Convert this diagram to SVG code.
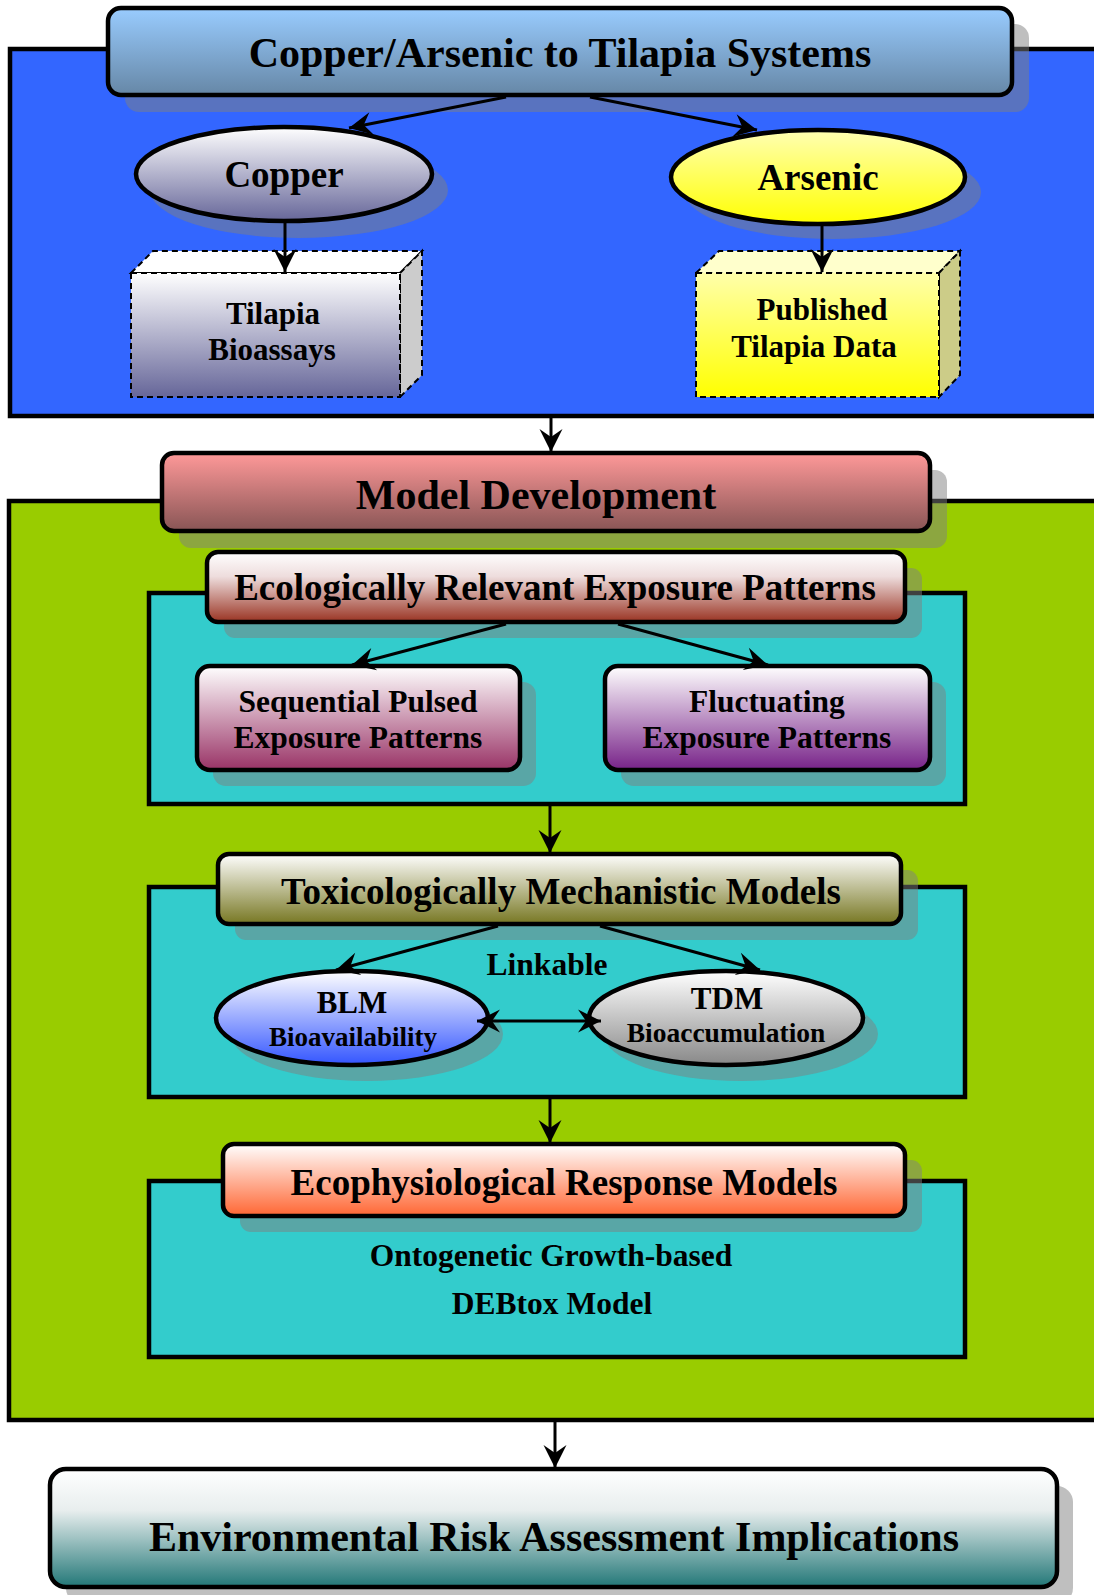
<svg xmlns="http://www.w3.org/2000/svg" width="1094" height="1595" viewBox="0 0 1094 1595">
<defs>
<style>
.t{font-family:"Liberation Serif","Times New Roman",serif;font-weight:bold;fill:#000;text-anchor:middle}
.cont{stroke:#000;stroke-width:4.5}
.box{stroke:#000;stroke-width:4.5}
.sh{fill:#808080;opacity:0.5}
.cube{stroke:#000;stroke-width:2;stroke-dasharray:6,4}
.ln{stroke:#000;stroke-width:3;fill:none}
</style>
<marker id="ah" viewBox="-26 -13 28 26" refX="0" refY="0" markerWidth="28" markerHeight="26" markerUnits="userSpaceOnUse" orient="auto-start-reverse">
<path d="M0,0 L-23,-11.5 L-15,0 L-23,11.5 Z" fill="#000"/>
</marker>
<linearGradient id="gTitle" x1="0" y1="0" x2="0" y2="1"><stop offset="0" stop-color="#99ccff"/><stop offset="1" stop-color="#6687a6"/></linearGradient>
<linearGradient id="gCopper" x1="0" y1="0" x2="0" y2="1"><stop offset="0" stop-color="#ffffff"/><stop offset="1" stop-color="#666699"/></linearGradient>
<linearGradient id="gArsenic" x1="0" y1="0" x2="0" y2="1"><stop offset="0" stop-color="#ffffb3"/><stop offset="1" stop-color="#ffff00"/></linearGradient>
<linearGradient id="gTilF" x1="0" y1="0" x2="0" y2="1"><stop offset="0" stop-color="#ffffff"/><stop offset="1" stop-color="#666699"/></linearGradient>
<linearGradient id="gPubF" x1="0" y1="0" x2="0" y2="1"><stop offset="0" stop-color="#ffffaa"/><stop offset="1" stop-color="#ffff00"/></linearGradient>
<linearGradient id="gModel" x1="0" y1="0" x2="0" y2="1"><stop offset="0" stop-color="#ff9999"/><stop offset="1" stop-color="#885555"/></linearGradient>
<linearGradient id="gEco" x1="0" y1="0" x2="0" y2="1"><stop offset="0" stop-color="#ffffff"/><stop offset="0.35" stop-color="#eedddd"/><stop offset="1" stop-color="#993322"/></linearGradient>
<linearGradient id="gSeq" x1="0" y1="0" x2="0" y2="1"><stop offset="0" stop-color="#ffffff"/><stop offset="1" stop-color="#993366"/></linearGradient>
<linearGradient id="gFluc" x1="0" y1="0" x2="0" y2="1"><stop offset="0" stop-color="#ffffff"/><stop offset="1" stop-color="#772288"/></linearGradient>
<linearGradient id="gTox" x1="0" y1="0" x2="0" y2="1"><stop offset="0" stop-color="#ffffff"/><stop offset="1" stop-color="#777722"/></linearGradient>
<linearGradient id="gBLM" x1="0" y1="0" x2="0" y2="1"><stop offset="0" stop-color="#ffffff"/><stop offset="1" stop-color="#3355ff"/></linearGradient>
<linearGradient id="gTDM" x1="0" y1="0" x2="0" y2="1"><stop offset="0" stop-color="#ffffff"/><stop offset="1" stop-color="#888888"/></linearGradient>
<linearGradient id="gEcoph" x1="0" y1="0" x2="0" y2="1"><stop offset="0" stop-color="#ffffff"/><stop offset="1" stop-color="#ff6633"/></linearGradient>
<linearGradient id="gERA" x1="0" y1="0" x2="0" y2="1"><stop offset="0" stop-color="#ffffff"/><stop offset="0.35" stop-color="#e8eeee"/><stop offset="1" stop-color="#227777"/></linearGradient>
</defs>
<rect width="1094" height="1595" fill="#ffffff"/>

<g id="containers">
<rect class="cont" x="10" y="49" width="1100" height="367" fill="#3366ff"/>
<rect class="cont" x="9" y="501" width="1100" height="919" fill="#99cc00"/>
<rect class="cont" x="149" y="593" width="816" height="211" fill="#33cccc"/>
<rect class="cont" x="149" y="887" width="816" height="210" fill="#33cccc"/>
<rect class="cont" x="149" y="1181" width="816" height="176" fill="#33cccc"/>
</g>

<g id="n-title">
<rect class="sh" x="125" y="24" width="904" height="88" rx="14"/>
<rect class="box" x="108" y="8" width="904" height="87" rx="13" fill="url(#gTitle)"/>
<text class="t" x="560" y="67" font-size="42">Copper/Arsenic to Tilapia Systems</text>
</g>

<g id="n-copper">
<ellipse class="sh" cx="299" cy="190" rx="149" ry="48"/>
<ellipse class="box" cx="284" cy="174" rx="148" ry="47" fill="url(#gCopper)"/>
<text class="t" x="284" y="187" font-size="37">Copper</text>
</g>

<g id="n-arsenic">
<ellipse class="sh" cx="833" cy="192" rx="148" ry="47"/>
<ellipse class="box" cx="818" cy="177" rx="147" ry="47" fill="url(#gArsenic)"/>
<text class="t" x="818" y="190" font-size="37">Arsenic</text>
</g>

<g id="n-bioassays">
<polygon class="cube" points="131,273 153,251 422,251 400,273" fill="#ffffff"/>
<polygon class="cube" points="400,273 422,251 422,375 400,397" fill="#cccccc"/>
<rect class="cube" x="131" y="273" width="269" height="124" fill="url(#gTilF)"/>
<text class="t" x="273" y="324" font-size="31">Tilapia</text>
<text class="t" x="272" y="360" font-size="31">Bioassays</text>
</g>

<g id="n-published">
<polygon class="cube" points="696,273 719,251 960,251 939,273" fill="#ffffcc"/>
<polygon class="cube" points="939,273 960,251 960,375 939,397" fill="#cccc88"/>
<rect class="cube" x="696" y="273" width="243" height="124" fill="url(#gPubF)"/>
<text class="t" x="822" y="320" font-size="31">Published</text>
<text class="t" x="814" y="357" font-size="31">Tilapia Data</text>
</g>

<g id="n-model">
<rect class="sh" x="179" y="470" width="768" height="78" rx="12"/>
<rect class="box" x="162" y="453" width="768" height="78" rx="12" fill="url(#gModel)"/>
<text class="t" x="536" y="509" font-size="42">Model Development</text>
</g>

<g id="n-eco">
<rect class="sh" x="224" y="568" width="698" height="70" rx="11"/>
<rect class="box" x="207" y="552" width="698" height="70" rx="11" fill="url(#gEco)"/>
<text class="t" x="555" y="600" font-size="37">Ecologically Relevant Exposure Patterns</text>
</g>

<g id="n-seq">
<rect class="sh" x="213" y="682" width="323" height="104" rx="13"/>
<rect class="box" x="197" y="666" width="323" height="104" rx="13" fill="url(#gSeq)"/>
<text class="t" x="358" y="712" font-size="31.5">Sequential Pulsed</text>
<text class="t" x="358" y="748" font-size="31.5">Exposure Patterns</text>
</g>

<g id="n-fluc">
<rect class="sh" x="621" y="682" width="325" height="104" rx="13"/>
<rect class="box" x="605" y="666" width="325" height="104" rx="13" fill="url(#gFluc)"/>
<text class="t" x="767" y="712" font-size="31.5">Fluctuating</text>
<text class="t" x="767" y="748" font-size="31.5">Exposure Patterns</text>
</g>

<g id="n-tox">
<rect class="sh" x="235" y="870" width="683" height="70" rx="11"/>
<rect class="box" x="218" y="854" width="683" height="70" rx="11" fill="url(#gTox)"/>
<text class="t" x="561" y="904" font-size="37">Toxicologically Mechanistic Models</text>
</g>

<g id="n-blm">
<ellipse class="sh" cx="367" cy="1034" rx="136" ry="47"/>
<ellipse class="box" cx="352" cy="1018" rx="136" ry="47" fill="url(#gBLM)"/>
<text class="t" x="352" y="1013" font-size="31">BLM</text>
<text class="t" x="353" y="1046" font-size="27">Bioavailability</text>
</g>

<g id="n-tdm">
<ellipse class="sh" cx="741" cy="1034" rx="137" ry="47"/>
<ellipse class="box" cx="726" cy="1018" rx="137" ry="47" fill="url(#gTDM)"/>
<text class="t" x="727" y="1009" font-size="31">TDM</text>
<text class="t" x="726" y="1042" font-size="27.5">Bioaccumulation</text>
</g>

<g id="n-ecophys">
<rect class="sh" x="240" y="1160" width="682" height="72" rx="11"/>
<rect class="box" x="223" y="1144" width="682" height="72" rx="11" fill="url(#gEcoph)"/>
<text class="t" x="564" y="1195" font-size="37">Ecophysiological Response Models</text>
</g>

<g id="n-debtox">
<text class="t" x="551" y="1266" font-size="31.5">Ontogenetic Growth-based</text>
<text class="t" x="552" y="1314" font-size="31.5">DEBtox Model</text>
</g>

<g id="n-linkable">
<text class="t" x="547" y="975" font-size="31.5">Linkable</text>
</g>

<g id="n-era">
<rect class="sh" x="66" y="1486" width="1007" height="118" rx="16"/>
<rect class="box" x="50" y="1469" width="1007" height="118" rx="16" fill="url(#gERA)"/>
<text class="t" x="554" y="1551" font-size="42">Environmental Risk Assessment Implications</text>
</g>

<g id="connectors">
<line class="ln" x1="506" y1="97" x2="349" y2="128" marker-end="url(#ah)"/>
<line class="ln" x1="590" y1="97" x2="757" y2="130" marker-end="url(#ah)"/>
<line class="ln" x1="285" y1="222" x2="285" y2="272" marker-end="url(#ah)"/>
<line class="ln" x1="822" y1="225" x2="822" y2="272" marker-end="url(#ah)"/>
<line class="ln" x1="551" y1="418" x2="551" y2="452" marker-end="url(#ah)" stroke-width="4"/>
<line class="ln" x1="506" y1="624" x2="352" y2="665" marker-end="url(#ah)"/>
<line class="ln" x1="618" y1="624" x2="768" y2="665" marker-end="url(#ah)"/>
<line class="ln" x1="550" y1="806" x2="550" y2="853" marker-end="url(#ah)" stroke-width="4"/>
<line class="ln" x1="498" y1="926" x2="336" y2="970" marker-end="url(#ah)"/>
<line class="ln" x1="600" y1="926" x2="760" y2="970" marker-end="url(#ah)"/>
<line class="ln" x1="477" y1="1021" x2="601" y2="1021" marker-start="url(#ah)" marker-end="url(#ah)" stroke-width="4.5"/>
<line class="ln" x1="550" y1="1099" x2="550" y2="1143" marker-end="url(#ah)" stroke-width="4"/>
<line class="ln" x1="555" y1="1422" x2="555" y2="1468" marker-end="url(#ah)" stroke-width="4"/>
</g>
</svg>
